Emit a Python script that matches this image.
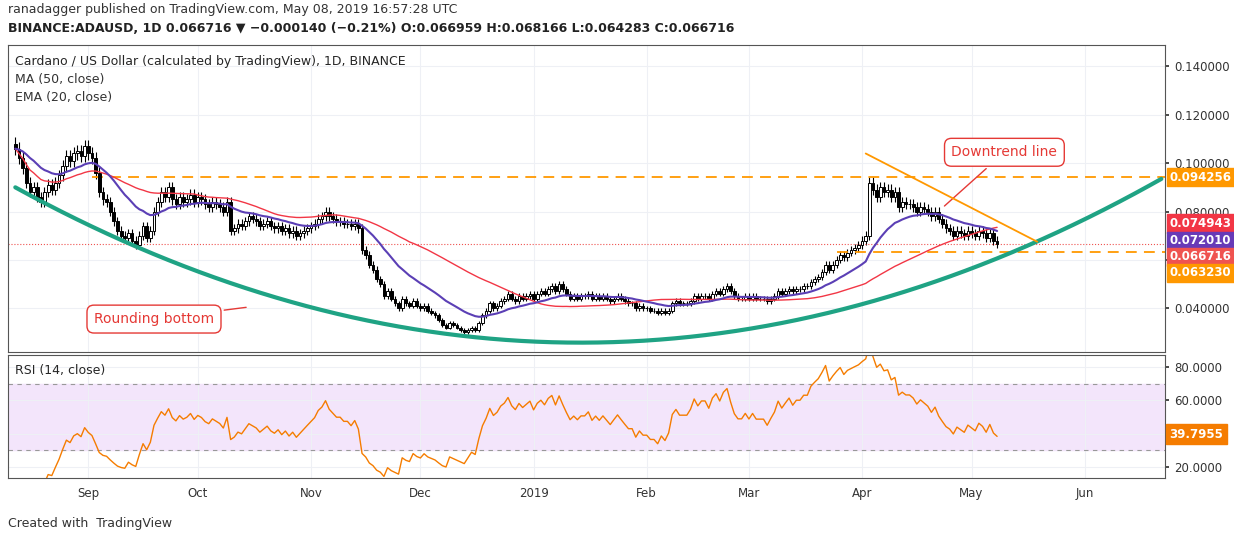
import numpy as np, pandas as pd, matplotlib
matplotlib.use("Agg")
import matplotlib.pyplot as plt, matplotlib.dates as mdates, seaborn as sns
sns.set_theme(style="white")
plt.rcParams['font.family'] = ['DejaVu Sans']

aug = [106,102,98,92,88,90,86,84,88,91,89,92,95,99,103,101,104,105,103,107]
sep = [104,102,96,88,85,84,80,76,72,70,69,71,68,66,70,74,69,72,80,84,88,86,90,85,83,86,84,85,87,84]
oct_ = [86,85,83,82,84,83,82,80,84,72,73,75,74,76,78,77,76,74,75,76,74,73,74,72,73,71,72,70,71,72,73]
nov = [74,75,77,78,80,78,77,76,76,75,75,74,75,73,64,62,58,56,52,50,45,47,44,42,40,44,42,41,43,41]
dec = [40,41,39,38,37,35,33,32,34,33,32,31,30,31,32,31,34,37,39,42,40,41,43,44,46,44,43,45,44,45,46]
jan = [44,46,47,46,48,49,47,50,48,46,44,45,44,45,45,46,44,45,44,45,44,43,44,45,44,43,42,42,40,41,40]
feb = [40,39,39,38,39,38,39,42,43,42,42,42,43,45,44,45,45,44,46,47,46,48,49,47,45,44,44,45]
mar = [44,45,44,44,44,43,44,45,47,46,47,48,47,48,48,49,49,51,52,53,55,58,56,58,60,62,61,63,64,65,66]
apr = [68,70,92,89,86,90,88,89,86,88,82,84,83,83,82,80,82,81,80,78,80,77,75,73,72,70,72,71,70,72]
may = [71,70,72,71,69,71,68,66.716]
closes = np.array(aug+sep+oct_+nov+dec+jan+feb+mar+apr+may)/1000
dates = pd.date_range("2018-08-12", periods=len(closes), freq="D")
opens = np.r_[closes[0]*1.02, closes[:-1]]
levels = [0.094256, 0.074943, 0.072010, 0.066716, 0.063230]
level_colors = ["#ff9800", "#f23645", "#673ab7", "#ef5350", "#ff9800"]
label_y = [0.0942, 0.0750, 0.0678, 0.0612, 0.0546]
bottom_pts_dates = ["2018-08-12", "2019-01-01", "2019-06-22"]
bottom_pts_vals = [0.0900, 0.0262, 0.0935]

df = pd.DataFrame({"date": dates, "close": closes})
df["ma50"] = df.close.rolling(50, min_periods=1).mean()
df["ema20"] = df.close.ewm(span=20, adjust=False).mean()
d = df.close.diff()
up = d.clip(lower=0).ewm(alpha=1/14, adjust=False).mean()
dn = (-d.clip(upper=0)).ewm(alpha=1/14, adjust=False).mean()
df["rsi"] = 100 - 100/(1+up/dn)

fig = plt.figure(figsize=(12.34, 5.41), dpi=100)
ax = fig.add_axes([8/1234, 0.349, 1157/1234, 0.567])
ax2 = fig.add_axes([8/1234, 0.1165, 1157/1234, 0.227], sharex=ax)
xmin, xmax = pd.Timestamp("2018-08-10"), pd.Timestamp("2019-06-23")

x = mdates.date2num(dates)
hi = np.maximum(opens, closes)*1.025
lo = np.minimum(opens, closes)*0.975
upc = closes >= opens
ax.vlines(x, lo, hi, color="black", lw=0.8, zorder=2)
ax.bar(x[upc], (closes-opens)[upc], bottom=opens[upc], width=0.75, color="white", edgecolor="black", lw=0.7, zorder=3)
ax.bar(x[~upc], (closes-opens)[~upc], bottom=opens[~upc], width=0.75, color="black", edgecolor="black", lw=0.7, zorder=3)
sns.lineplot(data=df, x="date", y="ma50", ax=ax, color="#f23645", lw=1, zorder=4)
sns.lineplot(data=df, x="date", y="ema20", ax=ax, color="#5b3fb5", lw=1.5, zorder=4)

bx = mdates.date2num(pd.to_datetime(bottom_pts_dates))
coef = np.polyfit(bx, bottom_pts_vals, 2)
xx = np.linspace(bx[0], bx[2], 300)
ax.plot(xx, np.polyval(coef, xx), color="#1fa384", lw=3, zorder=5)
ax.hlines(levels[0], mdates.date2num(pd.Timestamp("2018-09-02")), mdates.date2num(xmax), colors="#ff9800", lw=1.3, linestyles=(0, (6, 4)))
ax.hlines(levels[4], mdates.date2num(pd.Timestamp("2019-03-25")), mdates.date2num(xmax), colors="#ff9800", lw=1.3, linestyles=(0, (6, 4)))
ax.axhline(levels[3], color="#ef5350", lw=0.8, ls=":")
ax.plot(mdates.date2num(pd.to_datetime(["2019-04-02", "2019-05-19"])), [0.104, 0.0675], color="#ff9800", lw=1.3, zorder=5)
ax.annotate("Downtrend line", xy=(mdates.date2num(pd.Timestamp("2019-04-23")), 0.0815),
            xytext=(mdates.date2num(pd.Timestamp("2019-05-10")), 0.1045), ha="center", va="center", fontsize=10, color="#e53935",
            bbox=dict(boxstyle="round,pad=0.5", fc="white", ec="#e53935"), arrowprops=dict(arrowstyle="-", color="#e53935"))
ax.annotate("Rounding bottom", xy=(mdates.date2num(pd.Timestamp("2018-10-15")), 0.0405),
            xytext=(mdates.date2num(pd.Timestamp("2018-09-19")), 0.0355), ha="center", va="center", fontsize=10, color="#e53935",
            bbox=dict(boxstyle="round,pad=0.5", fc="white", ec="#e53935"), arrowprops=dict(arrowstyle="-", color="#e53935"))

ax.set_ylim(0.0218, 0.1487)
ax.set_xlim(xmin, xmax)
ax.set_yticks([0.04, 0.06, 0.08, 0.10, 0.12, 0.14])
ax.set_yticklabels(["0.040000", "", "0.080000", "0.100000", "0.120000", "0.140000"])
for a in (ax, ax2):
    a.yaxis.tick_right()
    a.tick_params(labelsize=8.5, colors="#333333", length=3)
    a.grid(True, color="#eef0f5", lw=0.8)
    a.set_xlabel(""); a.set_ylabel("")
    for s in a.spines.values():
        s.set_color("#555555"); s.set_linewidth(0.8)
ax.tick_params(labelbottom=False)
for v, c, ly in zip(levels, level_colors, label_y):
    ax.text(1.004, ly, f"{v:.6f}", transform=ax.get_yaxis_transform(), fontsize=8.5, color="white", va="center",
            fontweight="bold", bbox=dict(boxstyle="square,pad=0.22", fc=c, ec=c))
ax.text(0.006, 0.97, "Cardano / US Dollar (calculated by TradingView), 1D, BINANCE", transform=ax.transAxes, fontsize=9, va="top")
ax.text(0.006, 0.91, "MA (50, close)", transform=ax.transAxes, fontsize=9, va="top", color="#333")
ax.text(0.006, 0.85, "EMA (20, close)", transform=ax.transAxes, fontsize=9, va="top", color="#333")

ax2.axhspan(30, 70, color="#f3e5fb", zorder=0)
ax2.axhline(70, color="#999", lw=0.8, ls=(0, (4, 4)))
ax2.axhline(30, color="#999", lw=0.8, ls=(0, (4, 4)))
sns.lineplot(data=df, x="date", y="rsi", ax=ax2, color="#f57c00", lw=1)
ax2.set_ylim(13.4, 87.2)
ax2.set_yticks([20, 40, 60, 80])
ax2.set_yticklabels(["20.0000", "", "60.0000", "80.0000"])
ax2.set_xlabel(""); ax2.set_ylabel("")
ax2.text(1.004, 39.8, "39.7955", transform=ax2.get_yaxis_transform(), fontsize=8.5, color="white",
         va="center", fontweight="bold", bbox=dict(boxstyle="square,pad=0.3", fc="#f57c00", ec="#f57c00"))
ax2.text(0.006, 0.93, "RSI (14, close)", transform=ax2.transAxes, fontsize=9, va="top")
months = pd.date_range("2018-09-01", "2019-06-01", freq="MS")
ax2.set_xticks(months)
ax2.set_xticklabels(["2019" if m.month == 1 else m.strftime("%b") for m in months])
ax2.set_xlim(xmin, xmax)

fig.text(8/1234, 1-10/541, "ranadagger published on TradingView.com, May 08, 2019 16:57:28 UTC", fontsize=9, va="center", color="#333")
fig.text(8/1234, 1-29/541, "BINANCE:ADAUSD, 1D 0.066716 ▼ −0.000140 (−0.21%) O:0.066959 H:0.068166 L:0.064283 C:0.066716",
         fontsize=9, va="center", fontweight="bold", color="#222")
fig.text(8/1234, 1-523/541, "Created with  TradingView", fontsize=9, va="center", color="#333")
fig.savefig("out.png", dpi=100)
